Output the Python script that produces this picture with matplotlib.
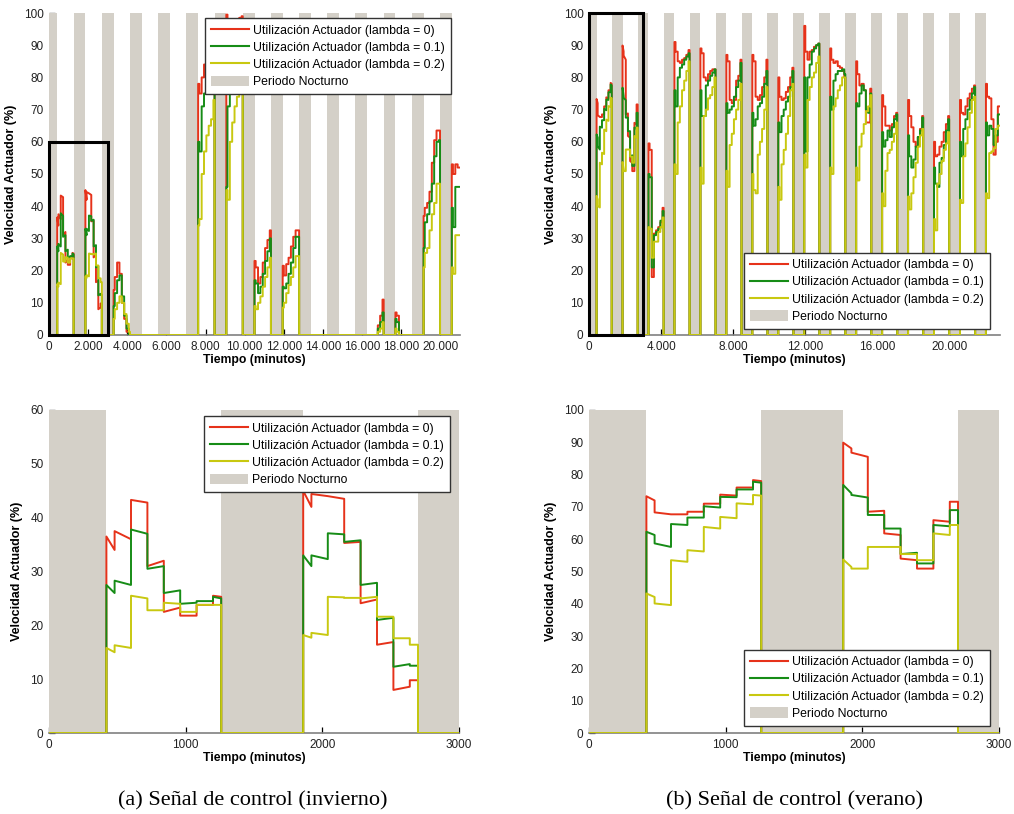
import matplotlib
matplotlib.use("Agg")
import matplotlib.pyplot as plt
from matplotlib.patches import Patch, Rectangle
from matplotlib.lines import Line2D
from matplotlib.ticker import FuncFormatter, MultipleLocator

plt.rcParams['font.family'] = ['Liberation Sans', 'DejaVu Sans']

# tramos de 2 h dentro de cada día (minutos desde las 0:00)
tramos = [420, 480, 600, 720, 840, 960, 1080, 1200, 1260]
# periodo nocturno: 21:00 -> 7:00
noche_ini = 1260
noche_fin = 420

# ---- invierno: un valor por tramo; (a, b) = valor al inicio y al final del tramo
inv_l0 = [
    [(36.5, 34), (37.5, 36), (43.3, 42.8), (31, 32), (22.5, 23.3), (21.8, 21.8), (23.8, 23.8), (25.5, 25.3)],
    [(45, 42), (44.4, 44), (44, 43.5), (35.3, 35.5), (24.1, 24.8), (16.4, 16.9), (8.0, 8.6), 9.8],
    [14, 18, 22.5, 19, 10, 5, 1, 0],
    [], [],
    [78, 75, 80, 84, 87, 90, 92, 94],
    [99.5, 97, 96, 96, 97, 97, 98.5, 99],
    [23, 21, 16, 18, 22.5, 27, 29.5, 32.5],
    [21.5, 18.5, 22, 24, 27.5, 30.5, 32.5, 32.5],
    [], [],
    [0, 0, 0, 0, 0, 3, 6, 11],
    [7, 6, 0, 0, 0, 0, 0, 0],
    [37, 39.5, 41, 44.5, 53.5, 60.5, 63.5, 63.5],
    [53, 50, 53, 52],
]
inv_l1 = [
    [(27.5, 26), (28.3, 27.5), (37.8, 37), (30.5, 31), (26, 26.5), (24, 24.2), (24.5, 24.5), (25.3, 25)],
    [(33, 31), (33, 32.3), (37.1, 36.9), (35.5, 35.8), (27.5, 27.9), (21, 21.4), (12.3, 12.8), 12.5],
    [9, 13, 17, 18.5, 12, 6, 2, 0],
    [], [],
    [60, 57, 71, 75, 78, 82, 85, 88],
    [46, 71, 76, 80, 84, 87, 90, 92],
    [17, 16, 13, 15, 19, 23, 26, 30],
    [15, 14.5, 16, 19, 22.5, 27, 30.5, 30.5],
    [], [],
    [0, 0, 0, 0, 0, 2, 4, 7],
    [5, 4, 0, 0, 0, 0, 0, 0],
    [27, 35, 37.5, 41.5, 47, 55.5, 60, 60.5],
    [39.5, 33.5, 46, 46],
]
inv_l2 = [
    [(15.8, 15), (16.3, 15.8), (25.5, 25), (22.8, 22.8), (24.2, 24), (22.5, 22.5), (23.8, 23.8), (23.8, 23.8)],
    [(18.2, 17.7), (18.6, 18.2), (25.3, 25.2), (25.1, 25.1), (25, 25.3), (21.6, 21.6), (17.6, 17.6), 16.4],
    [5, 8, 10, 12, 10, 6.5, 3.5, 1],
    [], [],
    [34, 36, 50, 57, 62, 65, 67, 73],
    [45, 42, 60, 66, 71, 74, 77, 80],
    [9, 8, 10, 12, 15, 18, 21, 24],
    [8.5, 10, 13, 15.5, 18, 21, 24.5, 24.5],
    [], [],
    [0, 0, 0, 0, 0, 1, 2, 4],
    [2, 1, 0, 0, 0, 0, 0, 0],
    [21, 25.5, 27, 32.5, 37.5, 41, 47, 47],
    [21, 19, 31, 31],
]

# ---- verano
ver_l0 = [
    [(73.3, 72), (68.3, 67.7), (67.7, 67.7), (68.5, 68.5), (71, 71), (73.8, 73.5), (76, 76), (78.3, 78)],
    [(89.9, 88.1), (86.8, 85.5), (68.5, 68.8), (61.8, 61.3), (54, 53.5), 50.9, (65.9, 65.4), 71.6],
    [59.5, 57.5, 18, 31.5, 32.5, 33.5, 35, 39.5],
    [91, 88, 85, 84.5, 85.5, 86, 87, 88.5],
    [89, 87.5, 80, 79, 81, 82, 82.5, 82.5],
    [87, 85, 73, 72, 73, 79, 80.5, 85.5],
    [87, 85, 74, 73, 74.5, 77, 80, 85.5],
    [80, 74, 73, 73.5, 75.5, 77, 80, 83],
    [96, 88, 85.5, 88, 88.5, 89.5, 90, 90.5],
    [89, 85.5, 84.5, 85, 83.5, 83, 82, 80],
    [85, 81, 77.5, 78, 76, 66, 66, 76.5],
    [74.5, 71, 65, 65, 63.5, 65.5, 68, 69],
    [73, 68, 64.5, 60, 58.5, 61.5, 64, 68],
    [60, 55.5, 56, 58.5, 60, 63, 65.5, 68],
    [73, 69, 68.5, 71, 73.5, 75, 76.5, 77.5],
    [78, 74, 73.5, 67, 56, 60, 71],
]
ver_l1 = [
    [(62.3, 61.3), (58.7, 57.6), (64.7, 64.4), (66.7, 66.7), (70.2, 69.8), (73.1, 73), (75.4, 75.4), (77.8, 77.5)],
    [(76.8, 74.2), (73.7, 72.9), 67.5, 63.3, (55.4, 55.8), 52.5, (64.4, 64), 69],
    [50, 49, 21, 31, 32, 33, 35.5, 38.5],
    [76, 71, 80, 83, 84, 85.5, 86.5, 87.5],
    [76, 68, 68, 77.5, 79, 80.5, 81.5, 82.5],
    [72, 69, 70, 71, 74, 77, 79, 84.5],
    [69, 65, 67, 71, 72, 74, 78, 82],
    [66, 63, 68, 70, 72.5, 74, 77, 82],
    [80, 57, 80, 84, 88, 89, 90, 90.5],
    [74, 70, 79, 81, 82, 82, 82.5, 81],
    [72, 71, 75, 77.5, 76, 70, 69, 75],
    [63, 58.5, 60.5, 63.5, 61.5, 64.5, 67, 68.5],
    [62, 55.5, 52, 54.5, 58.5, 61.5, 63.5, 67.5],
    [52, 47, 46, 53.5, 55, 59, 63.5, 67],
    [60, 55.5, 64, 67, 70, 73, 75, 77],
    [66, 62, 65, 64, 59, 62, 68.5],
]
ver_l2 = [
    [(43.2, 42.1), (40.1, 39.6), (53.5, 53), (56.6, 56.2), (63.8, 63.3), (66.9, 66.5), (71.1, 70.8), (73.7, 73.5)],
    [(53.7, 51.4), 50.9, 57.6, 57.6, 55.4, 53.5, (61.8, 61.3), 64.4],
    [33.5, 33, 24, 29, 29, 32, 33.5, 36.5],
    [53, 50, 66, 71, 76, 79, 82, 85],
    [52, 47, 68, 70, 73.5, 74.5, 77, 80],
    [51, 46, 59, 62.5, 67, 70, 73, 78],
    [50, 45, 44, 56, 60, 64, 70, 77],
    [46, 42, 53, 57.5, 62.5, 68, 76, 78],
    [56, 52, 73, 77, 80, 81.5, 84.5, 86.5],
    [52, 50, 71, 73.5, 76, 77.5, 80, 80],
    [52, 48, 58.5, 62.5, 65.5, 69.5, 71, 74.5],
    [44, 40, 51, 56.5, 57.5, 60, 62.5, 66],
    [43, 39, 44, 49, 53.5, 58.5, 62, 64],
    [36, 32.5, 47, 50, 54, 57.5, 59.5, 63],
    [42, 41, 55.5, 59.5, 64.5, 69, 73, 74],
    [44, 42.5, 56.5, 57, 58, 64, 65],
]

etiquetas = ['Utilización Actuador (lambda = 0)', 'Utilización Actuador (lambda = 0.1)',
             'Utilización Actuador (lambda = 0.2)', 'Periodo Nocturno']
colores = ['#e6321a', '#168c16', '#c8c810']
gris = '#d4d0c8'


def serie(dias, t_max):
    t, v = [0], [0]
    for k, dia in enumerate(dias):
        if not dia:
            continue
        base = k * 1440
        t.append(base + tramos[0])
        v.append(0)
        for i, val in enumerate(dia):
            a, b = val if isinstance(val, tuple) else (val, val)
            t += [base + tramos[i], base + tramos[i + 1]]
            v += [a, b]
        if len(dia) == len(tramos) - 1:
            t.append(base + tramos[-1])
            v.append(0)
    if t[-1] < t_max:
        t.append(t_max)
        v.append(0)
    return t, v


def miles(x, pos):
    return f"{int(round(x)):,}".replace(",", ".")


def panel(ax, datos, x_lim, y_max, x_paso, sep_miles, rect, loc, ancla):
    for k in range(int(x_lim // 1440) + 2):
        ax.axvspan((k - 1) * 1440 + noche_ini, k * 1440 + noche_fin, color=gris, lw=0, zorder=1)
    for dias, c in zip(datos, colores):
        t, v = serie(dias, x_lim)
        ax.plot(t, v, color=c, lw=1.4, zorder=3)
    if rect:
        ax.add_patch(Rectangle((0, 0), 3000, rect, fill=False, ec='black', lw=2.2,
                               zorder=5, clip_on=False))
    ax.set_xlim(0, x_lim)
    ax.set_ylim(0, y_max)
    ax.xaxis.set_major_locator(MultipleLocator(x_paso))
    ax.yaxis.set_major_locator(MultipleLocator(10))
    if sep_miles:
        ax.xaxis.set_major_formatter(FuncFormatter(miles))
    ax.set_axisbelow(True)
    for s in ['top', 'right', 'left']:
        ax.spines[s].set_visible(False)
    ax.spines['bottom'].set_color('#808080')
    ax.spines['bottom'].set_linewidth(1.2)
    ax.spines['bottom'].set_zorder(2)
    ax.tick_params(direction='in', length=4, width=0.9, labelsize=8.5,
                   labelcolor='#222222', pad=4)
    ax.set_xlabel('Tiempo (minutos)', fontsize=8.8, fontweight='bold', labelpad=1)
    ax.set_ylabel('Velocidad Actuador (%)', fontsize=9, fontweight='bold', labelpad=5)
    handles = [Line2D([], [], color=c, lw=1.5) for c in colores]
    handles.append(Patch(facecolor=gris, edgecolor='none'))
    leg = ax.legend(handles, etiquetas, loc=loc, bbox_to_anchor=ancla, fontsize=8.8,
                    frameon=True, fancybox=False, framealpha=1, edgecolor='#333333',
                    handlelength=3.1, handleheight=0.9, handletextpad=0.33,
                    labelspacing=0.4, borderpad=0.5, borderaxespad=0)
    leg.get_frame().set_linewidth(1.0)
    leg.set_zorder(6)


fig = plt.figure(figsize=(10.14, 8.14), dpi=100)
W, H = 1014, 814

ax1 = fig.add_axes([49 / W, 1 - 335 / H, 411 / W, 322 / H])
panel(ax1, [inv_l0, inv_l1, inv_l2], 21000, 100, 2000, True, 60, 'upper right', (0.978, 0.984))

ax2 = fig.add_axes([589 / W, 1 - 335 / H, 411 / W, 322 / H])
panel(ax2, [ver_l0, ver_l1, ver_l2], 22800, 100, 4000, True, 100, 'lower right', (0.976, 0.019))

ax3 = fig.add_axes([49 / W, 1 - 733 / H, 410 / W, 323 / H])
panel(ax3, [inv_l0, inv_l1, inv_l2], 3000, 60, 1000, False, None, 'upper right', (0.978, 0.981))

ax4 = fig.add_axes([589 / W, 1 - 733 / H, 410 / W, 323 / H])
panel(ax4, [ver_l0, ver_l1, ver_l2], 3000, 100, 1000, False, None, 'lower right', (0.978, 0.022))

fig.text(253 / W, 1 - 801 / H, '(a) Señal de control (invierno)', family='Liberation Serif',
         fontsize=16, ha='center', va='center')
fig.text(794 / W, 1 - 801 / H, '(b) Señal de control (verano)', family='Liberation Serif',
         fontsize=16, ha='center', va='center')

fig.savefig('out.png', dpi=100)
